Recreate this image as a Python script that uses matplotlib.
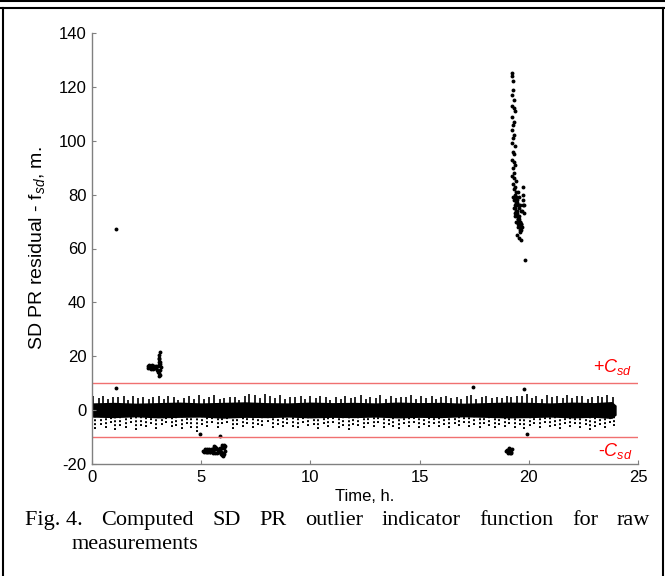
import matplotlib
matplotlib.use("Agg")
import matplotlib.pyplot as plt
from matplotlib.lines import Line2D

plt.rcParams["font.family"] = "Liberation Sans"
plt.rcParams["mathtext.fontset"] = "custom"
plt.rcParams["mathtext.rm"] = "Liberation Sans"
plt.rcParams["mathtext.it"] = "Liberation Sans:italic"
plt.rcParams["axes.unicode_minus"] = False

# data
# central band envelope (hours, metres)
core_t = [0, 1, 2, 3, 4, 5, 6, 7, 8, 9, 10, 11, 12, 13, 14, 15, 16, 17, 18, 19, 20, 21, 22, 23, 23.8, 24.0]
core_hi = [2.7, 2.9, 2.6, 2.8, 3.0, 2.7, 2.9, 3.1, 2.8, 2.7, 3.0, 2.8, 2.9, 2.7, 3.0, 2.8, 2.9, 2.6, 2.8, 3.0, 2.9, 2.7, 3.0, 2.8, 3.2, 1.8]
core_lo = [-2.6, -2.8, -2.5, -2.9, -2.7, -2.6, -3.0, -2.7, -2.8, -2.6, -2.9, -2.7, -2.8, -2.6, -2.9, -2.7, -2.8, -2.5, -2.7, -2.9, -2.8, -2.6, -2.9, -2.7, -3.1, -1.8]

# upward spikes of the band
up_t = [0.05, 0.3, 0.5, 0.75, 0.95, 1.2, 1.45, 1.65, 1.9, 2.1,
        2.35, 2.6, 2.8, 3.05, 3.3, 3.5, 3.75, 3.95, 4.2, 4.45,
        4.65, 4.9, 5.15, 5.35, 5.6, 5.85, 6.05, 6.3, 6.55, 6.75,
        7.0, 7.2, 7.45, 7.7, 7.9, 8.15, 8.4, 8.6, 8.85, 9.05,
        9.3, 9.55, 9.75, 10.0, 10.25, 10.45, 10.7, 10.9, 11.15, 11.4,
        11.6, 11.85, 12.05, 12.3, 12.55, 12.75, 13.0, 13.2, 13.45, 13.7,
        13.9, 14.15, 14.4, 14.6, 14.85, 15.05, 15.3, 15.55, 15.75, 16.0,
        16.2, 16.45, 16.7, 16.9, 17.15, 17.35, 17.6, 17.85, 18.05, 18.3,
        18.55, 18.75, 19.0, 19.2, 19.45, 19.7, 19.9, 20.15, 20.35, 20.6,
        20.85, 21.05, 21.3, 21.55, 21.75, 22.0, 22.2, 22.45, 22.7, 22.9,
        23.15, 23.35, 23.6, 23.85]
up_v = [5.2, 4.6, 5.4, 4.1, 5.0, 4.8, 5.3, 3.9, 5.1, 4.4,
        5.0, 4.2, 4.9, 5.3, 4.0, 5.2, 4.7, 3.8, 4.5, 5.1,
        4.3, 5.6, 4.0, 4.8, 5.5, 4.2, 4.6, 5.0, 4.9, 3.9,
        5.3, 6.0, 5.7, 4.4, 5.9, 5.2, 4.6, 5.5, 4.1, 5.0,
        4.7, 5.4, 4.0, 5.1, 4.6, 5.3, 4.9, 3.8, 5.0, 4.3,
        5.2, 4.5, 4.9, 5.6, 4.2, 5.0, 4.6, 5.5, 4.1, 5.2,
        4.4, 5.0, 4.7, 5.8, 4.0, 5.1, 4.5, 5.3, 4.2, 4.9,
        5.4, 4.6, 5.0, 4.3, 5.2, 5.6, 4.1, 4.8, 5.3, 4.4,
        5.0, 4.5, 5.2, 4.7, 5.1, 5.3, 6.0, 4.6, 5.4, 4.2,
        5.5, 4.8, 5.2, 4.4, 5.7, 4.6, 5.1, 5.4, 4.3, 5.0,
        5.3, 4.7, 5.5, 4.9]

# downward spikes of the band
lo_t = [0.15, 0.4, 0.65, 0.85, 1.05, 1.3, 1.55, 1.8, 2.0, 2.25,
        2.45, 2.7, 2.95, 3.2, 3.4, 3.65, 3.85, 4.1, 4.35, 4.55,
        4.8, 5.05, 5.25, 5.5, 5.75, 5.95, 6.2, 6.45, 6.65, 6.9,
        7.1, 7.35, 7.6, 7.8, 8.05, 8.3, 8.5, 8.75, 8.95, 9.2,
        9.45, 9.65, 9.9, 10.15, 10.35, 10.6, 10.8, 11.05, 11.3, 11.5,
        11.75, 11.95, 12.2, 12.45, 12.65, 12.9, 13.1, 13.35, 13.6, 13.8,
        14.05, 14.3, 14.5, 14.75, 14.95, 15.2, 15.45, 15.65, 15.9, 16.1,
        16.35, 16.6, 16.8, 17.05, 17.25, 17.5, 17.75, 17.95, 18.2, 18.45,
        18.65, 18.9, 19.1, 19.35, 19.6, 19.8, 20.05, 20.25, 20.5, 20.75,
        20.95, 21.2, 21.45, 21.65, 21.9, 22.1, 22.35, 22.6, 22.8, 23.05,
        23.25, 23.5, 23.7, 23.9]
lo_v = [-7.0, -5.5, -6.8, -4.8, -7.2, -5.9, -6.5, -4.6, -7.4, -5.8,
        -6.2, -5.0, -6.9, -5.4, -4.7, -6.3, -5.9, -7.0, -5.2, -6.6,
        -8.0, -5.5, -6.4, -4.9, -6.8, -5.3, -4.6, -6.9, -5.6, -6.2,
        -5.0, -6.6, -5.4, -6.0, -4.5, -6.8, -5.7, -6.3, -5.0, -6.1,
        -6.7, -4.8, -6.0, -5.5, -6.9, -5.2, -6.4, -4.7, -6.6, -5.8,
        -7.3, -5.4, -6.0, -6.8, -5.1, -6.3, -4.9, -6.5, -5.6, -6.1,
        -6.9, -5.3, -6.1, -4.8, -6.6, -5.7, -6.4, -5.0, -6.2, -5.5,
        -6.8, -5.2, -6.0, -4.7, -6.3, -5.6, -6.5, -5.1, -5.9, -6.7,
        -5.4, -6.2, -5.0, -6.8, -5.5, -7.0, -6.0, -5.3, -6.6, -4.9,
        -6.4, -5.8, -6.9, -5.2, -6.3, -5.0, -6.7, -5.5, -7.2, -6.1,
        -5.7, -6.5, -4.8, -6.0]

# outlier cluster near 3 h (+16 m)
ca_t = [2.55, 2.60, 2.65, 2.70, 2.75, 2.80, 2.85, 2.90, 2.95, 3.00, 3.05, 3.10, 3.15,
        2.58, 2.63, 2.68, 2.73, 2.78, 2.83, 2.88, 2.93, 2.98, 3.03, 3.08, 3.12,
        3.05, 3.07, 3.09, 3.10, 3.06, 3.11, 3.13, 3.08]
ca_v = [16.2, 16.5, 15.8, 16.3, 16.0, 15.7, 16.1, 15.9, 15.5, 16.4, 16.8, 17.2, 16.0,
        15.5, 16.9, 15.4, 16.7, 15.3, 16.5, 15.6, 16.2, 14.8, 14.3, 13.8, 13.0,
        18.0, 19.5, 20.5, 21.5, 12.5, 17.8, 15.0, 19.0]

# outlier cluster 5-6 h (-15 m)
cb_t = [5.10, 5.15, 5.20, 5.25, 5.30, 5.35, 5.40, 5.45, 5.50, 5.55, 5.60, 5.65, 5.70, 5.75, 5.80,
        5.85, 5.90, 5.95, 6.00, 6.05, 5.12, 5.22, 5.32, 5.42, 5.52, 5.62, 5.72, 5.82, 5.92, 6.02,
        5.18, 5.28, 5.38, 5.48, 5.58, 5.68, 5.78, 5.88, 5.98, 6.08, 5.95, 6.00, 6.05, 6.08,
        5.93, 5.97, 6.03, 5.60, 5.65, 5.55]
cb_v = [-15.0, -15.3, -14.8, -15.4, -15.1, -14.7, -15.5, -15.0, -14.6, -15.2, -14.3, -13.8, -14.5, -15.6, -15.2,
        -14.8, -15.5, -14.2, -15.8, -14.0, -15.6, -15.5, -15.7, -15.6, -15.7, -15.9, -15.8, -15.7, -16.2, -16.6,
        -14.4, -14.5, -14.6, -14.4, -14.5, -14.0, -14.6, -14.2, -13.6, -13.2, -16.8, -17.2, -16.4, -15.0,
        -13.8, -13.0, -12.8, -13.3, -13.6, -16.0]

# outlier cluster near 19 h (-15 m)
cc_t = [18.95, 19.0, 19.05, 19.1, 19.15, 19.2, 18.98, 19.03, 19.08, 19.12, 19.17, 19.22, 19.1, 19.15, 19.05]
cc_v = [-15.0, -15.3, -14.8, -15.2, -14.6, -15.4, -14.9, -15.6, -14.7, -15.5, -16.0, -14.5, -14.2, -15.8, -15.9]

# jump near 19.3 h (125 m down to 80 m)
cd_t = [19.22, 19.24, 19.26, 19.28, 19.23, 19.30, 19.25, 19.31, 19.35, 19.22, 19.33, 19.27,
        19.24, 19.34, 19.29, 19.21, 19.36, 19.26, 19.33, 19.24, 19.31, 19.38, 19.27, 19.32,
        19.25, 19.34, 19.42, 19.28, 19.33, 19.36, 19.27, 19.44, 19.35, 19.40, 19.48]
cd_v = [125, 124, 122, 119, 117, 115, 113, 112, 111, 109, 107, 106,
        104, 102, 101, 99, 98, 96, 95, 93, 92, 91, 90, 88,
        87, 86, 85, 84, 82, 80, 79, 77, 83, 81, 78]

# dense cluster 19.3-19.8 h (63-83 m)
ce_t = [19.32, 19.40, 19.48, 19.55, 19.62, 19.35, 19.44, 19.52, 19.58, 19.66,
        19.38, 19.46, 19.54, 19.61, 19.70, 19.33, 19.42, 19.50, 19.57, 19.64,
        19.37, 19.45, 19.53, 19.60, 19.68, 19.36, 19.43, 19.51, 19.59, 19.72,
        19.39, 19.47, 19.56, 19.63, 19.74, 19.41, 19.49, 19.57, 19.65, 19.75,
        19.46, 19.55, 19.62, 19.75, 19.78, 19.43, 19.60, 19.52, 19.80, 19.50, 19.83]
ce_v = [78, 77, 76, 75, 74, 73, 72, 71, 70, 69,
        76, 74, 72, 70, 68, 75, 73, 71, 69, 67,
        78, 77, 79, 76, 74, 72, 70, 68, 66, 80,
        75, 73, 71, 69, 76, 74, 72, 70, 68, 83,
        65, 64, 63, 78, 73, 79, 67, 69, 76, 81, 55.7]

# isolated points
iso_t = [1.10, 1.10, 17.46, 19.78, 4.93, 5.85, 19.93]
iso_v = [67.2, 8.3, 8.4, 7.7, -8.7, -9.6, -8.9]

threshold = 10
x_ticks = [0, 5, 10, 15, 20, 25]
y_ticks = [-20, 0, 20, 40, 60, 80, 100, 120, 140]

caption_line1 = ["Fig. 4.", "Computed", "SD", "PR", "outlier", "indicator", "function", "for", "raw"]
caption_line2 = "measurements"

fig = plt.figure(figsize=(6.65, 5.76), dpi=100)
ax = fig.add_axes([92 / 665, 112 / 576, 546 / 665, 431 / 576])

ax.fill_between(core_t, core_lo, core_hi, color="black", lw=0)
ax.vlines(up_t, 2.0, up_v, colors="black", lw=1.2)
ax.vlines(lo_t, lo_v, -2.0, colors="black", lw=1.4, linestyles=[(0, (1.0, 1.0))])

mk = dict(ls="none", marker="o", ms=2.8, color="black", mew=0)
for tt, vv in [(ca_t, ca_v), (cb_t, cb_v), (cc_t, cc_v), (cd_t, cd_v), (ce_t, ce_v), (iso_t, iso_v)]:
    ax.plot(tt, vv, **mk)

ax.axhline(threshold, color="#f07070", lw=1)
ax.axhline(-threshold, color="#f07070", lw=1)
ax.text(24.75, 14.0, r"+$C_{sd}$", color="red", fontsize=13, ha="right", va="baseline")
ax.text(24.75, -17.0, r"-$C_{sd}$", color="red", fontsize=13, ha="right", va="baseline")

ax.set_xlim(0, 25)
ax.set_ylim(-20, 140)
ax.set_xticks(x_ticks)
ax.set_yticks(y_ticks)
for s in ["top", "right"]:
    ax.spines[s].set_visible(False)
for s in ["left", "bottom"]:
    ax.spines[s].set_color("#808080")
    ax.spines[s].set_linewidth(1)
ax.tick_params(direction="in", length=3, color="#808080", labelsize=12, pad=4)
ax.set_xlabel("Time, h.", fontsize=12, labelpad=3)
ax.set_ylabel(r"SD PR residual - f$_{sd}$, m.", fontsize=14, labelpad=8)

# frame around the figure
W, H = 665, 576
fig.add_artist(Line2D([0, 1], [1 - 1 / H, 1 - 1 / H], color="black", lw=1.5))
fig.add_artist(Line2D([0, 1], [1 - 7.5 / H, 1 - 7.5 / H], color="black", lw=1.5))
fig.add_artist(Line2D([3 / W, 3 / W], [0, 1 - 7.5 / H], color="black", lw=1.5))
fig.add_artist(Line2D([663 / W, 663 / W], [0, 1 - 7.5 / H], color="black", lw=1.5))

# justified caption
cap_font = dict(family="Liberation Serif", fontsize=16)
x0, x1 = 25 / W, 650 / W
y1 = 1 - 525 / H
words = [fig.text(x0, y1, w, ha="left", va="baseline", **cap_font) for w in caption_line1]
fig.canvas.draw()
r = fig.canvas.get_renderer()
widths = [t.get_window_extent(r).width / W for t in words]
gap = (x1 - x0 - sum(widths)) / (len(words) - 1)
x = x0
for t, w in zip(words, widths):
    t.set_x(x)
    x += w + gap
fig.text(72 / W, 1 - 549 / H, caption_line2, ha="left", va="baseline", **cap_font)

fig.savefig("out.png", dpi=100)
